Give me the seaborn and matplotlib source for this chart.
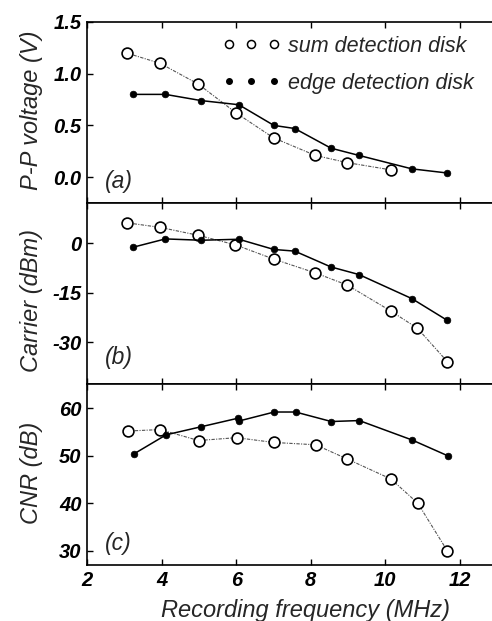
import numpy as np
import pandas as pd
import matplotlib
matplotlib.use("Agg")
import matplotlib.pyplot as plt
from matplotlib.lines import Line2D
import seaborn as sns

# ---------------- data ----------------
# (a) P-P voltage (V)
a_sum_x = [3.06, 3.96, 4.98, 6.00, 7.00, 8.12, 8.98, 10.15]
a_sum_y = [1.20, 1.10, 0.90, 0.62, 0.38, 0.21, 0.14, 0.07]
a_edge_x = [3.24, 4.10, 5.06, 6.07, 7.01, 7.57, 8.54, 9.29, 10.71, 11.66]
a_edge_y = [0.80, 0.80, 0.74, 0.70, 0.50, 0.47, 0.28, 0.21, 0.08, 0.04]

# (b) Carrier (dBm)
b_sum_x = [3.06, 3.96, 4.98, 5.98, 7.00, 8.12, 8.98, 10.15, 10.86, 11.66]
b_sum_y = [6.2, 4.8, 2.4, -0.5, -4.8, -9.0, -12.7, -20.6, -25.8, -35.9]
b_edge_x = [3.24, 4.10, 5.06, 6.07, 7.01, 7.57, 8.54, 9.29, 10.71, 11.66]
b_edge_y = [-1.2, 1.3, 0.9, 1.2, -1.9, -2.4, -7.2, -9.5, -16.8, -23.4]

# (c) CNR (dB)
c_sum_x = [3.09, 3.96, 4.99, 6.01, 7.00, 8.13, 8.98, 10.15, 10.87, 11.66]
c_sum_y = [55.2, 55.5, 53.2, 53.8, 52.8, 52.3, 49.3, 45.1, 40.0, 30.0]
c_edge_x = [3.26, 4.12, 5.06, 6.05, 6.07, 7.02, 7.59, 8.55, 9.30, 10.72, 11.67]
c_edge_y = [50.4, 54.4, 56.1, 57.9, 57.3, 59.2, 59.2, 57.2, 57.4, 53.3, 50.0]

sum_label = "sum detection disk"
edge_label = "edge detection disk"
y_labels = ["P-P voltage (V)", "Carrier (dBm)", "CNR (dB)"]
panel_tags = ["(a)", "(b)", "(c)"]
x_label = "Recording frequency (MHz)"
x_ticks = [2, 4, 6, 8, 10, 12]
y_ticks = [[0.0, 0.5, 1.0, 1.5], [0, -15, -30], [30, 40, 50, 60]]
y_limits = [(-0.25, 1.5), (-42.7, 12.2), (27.0, 65.1)]

# ---------------- style ----------------
sns.set_theme(style="white")
plt.rcParams["font.family"] = ["Liberation Sans", "DejaVu Sans"]

fig, axes = plt.subplots(3, 1, sharex=True, figsize=(4.92, 6.21), dpi=100,
                         gridspec_kw=dict(hspace=0))
fig.subplots_adjust(left=0.177, right=1.0, top=0.9646, bottom=0.0902)

panels = [(a_sum_x, a_sum_y, a_edge_x, a_edge_y),
          (b_sum_x, b_sum_y, b_edge_x, b_edge_y),
          (c_sum_x, c_sum_y, c_edge_x, c_edge_y)]
ylab_pos = [0.51, 0.46, 0.51]
tag_pos = [0.12, 0.145, 0.12]

for i, (ax, (sx, sy, ex, ey)) in enumerate(zip(axes, panels)):
    sdf = pd.DataFrame({"x": sx, "y": sy})
    edf = pd.DataFrame({"x": ex, "y": ey})
    sns.lineplot(data=sdf, x="x", y="y", ax=ax, estimator=None, sort=False,
                 color="#555555", linewidth=0.8, linestyle=(0, (3, 1.2, 1, 1.2)),
                 marker="o", markersize=7.8, markerfacecolor="white",
                 markeredgecolor="black", markeredgewidth=1.2, zorder=3)
    sns.lineplot(data=edf, x="x", y="y", ax=ax, estimator=None, sort=False,
                 color="black", linewidth=1.1, linestyle="-",
                 marker="o", markersize=4.8, markerfacecolor="black",
                 markeredgecolor="black", markeredgewidth=0.5, zorder=4)
    ax.set_ylim(*y_limits[i])
    ax.set_yticks(y_ticks[i])
    if i == 0:
        ax.set_yticklabels([f"{v:.1f}" for v in y_ticks[i]])
    else:
        ax.set_yticklabels([f"{v:g}" for v in y_ticks[i]])
    ax.set_ylabel(y_labels[i], fontsize=17, style="italic")
    ax.yaxis.set_label_coords(-0.108, ylab_pos[i])
    ax.set_xlabel("")
    ax.text(0.045, tag_pos[i], panel_tags[i], transform=ax.transAxes,
            fontsize=16.5, style="italic", ha="left", va="center")
    for side in ["left", "top", "bottom"]:
        ax.spines[side].set_visible(True)
        ax.spines[side].set_color("black")
        ax.spines[side].set_linewidth(1.2)
    ax.spines["right"].set_visible(False)
    ax.tick_params(axis="both", direction="in", length=4, width=1.0,
                   top=True, bottom=True, left=True, right=False,
                   labelsize=14.5, colors="black", pad=4)
    for lab in ax.get_yticklabels():
        lab.set_fontstyle("italic")
        lab.set_fontweight("bold")

ax = axes[-1]
ax.set_xlim(2, 12.86)
ax.set_xticks(x_ticks)
ax.set_xticklabels([str(v) for v in x_ticks])
for lab in ax.get_xticklabels():
    lab.set_fontstyle("italic")
    lab.set_fontweight("bold")
ax.set_xlabel(x_label, fontsize=17, style="italic")
ax.xaxis.set_label_coords(0.54, -0.19)

handles = [
    Line2D([], [], linestyle="none", marker="o", markersize=5.8,
           markerfacecolor="white", markeredgecolor="black", markeredgewidth=1.1),
    Line2D([], [], linestyle="none", marker="o", markersize=4.0,
           markerfacecolor="black", markeredgecolor="black"),
]
leg = axes[0].legend(handles, [sum_label, edge_label], loc="upper right",
                     bbox_to_anchor=(0.955, 0.923), frameon=False, numpoints=3,
                     borderpad=0, borderaxespad=0,
                     handlelength=2.7, handletextpad=0.35, labelspacing=0.73,
                     prop=dict(size=15.5, style="italic"))

fig.savefig("out.png", dpi=100)
